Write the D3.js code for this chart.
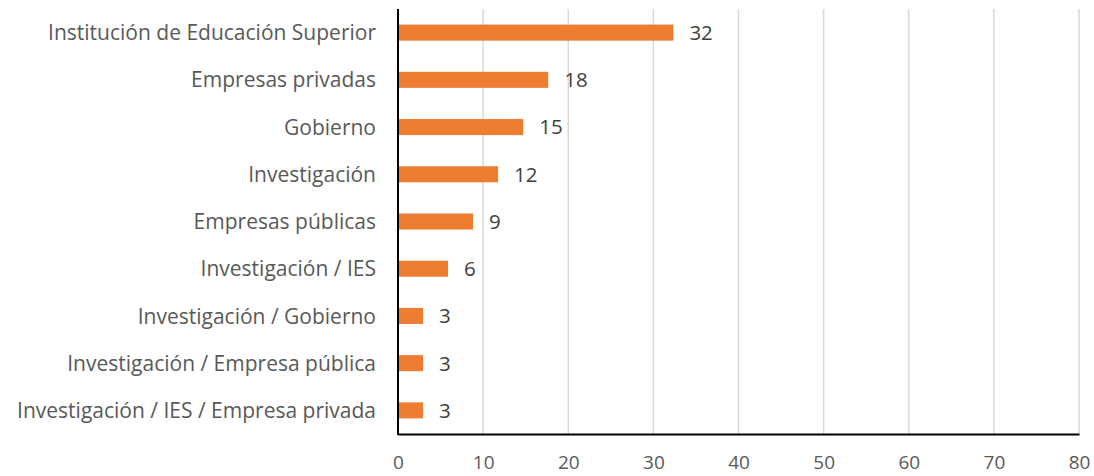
<!DOCTYPE html>
<html><head><meta charset="utf-8">
<script src="https://cdn.jsdelivr.net/npm/d3@7"></script>
<style>body{margin:0;background:#fff}svg{display:block}</style>
</head><body>
<script>
const categories = ["Institución de Educación Superior","Empresas privadas","Gobierno","Investigación","Empresas públicas","Investigación / IES","Investigación / Gobierno","Investigación / Empresa pública","Investigación / IES / Empresa privada"];
const values = [32.35, 17.65, 14.71, 11.76, 8.82, 5.88, 2.94, 2.94, 2.94];
const valueLabels = ["32","18","15","12","9","6","3","3","3"];
const xTicks = [0,10,20,30,40,50,60,70,80];

const W=1094,H=476;
const svg=d3.select("body").append("svg").attr("width",W).attr("height",H);
const x=d3.scaleLinear().domain([0,80]).range([398,1079]);
const y=d3.scaleBand().domain(categories).range([9,434]).paddingInner(0.66).paddingOuter(0.33);
const font="Open Sans, sans-serif";

svg.append("g").selectAll("line").data(xTicks.filter(d=>d>0)).join("line")
 .attr("x1",d=>x(d)).attr("x2",d=>x(d)).attr("y1",9).attr("y2",434)
 .attr("stroke","#d9d9d9").attr("stroke-width",1.5);

svg.append("g").selectAll("rect").data(values).join("rect")
 .attr("x",x(0)).attr("y",(d,i)=>y(categories[i]))
 .attr("width",d=>x(d)-x(0)).attr("height",y.bandwidth())
 .attr("fill","#ed7d31");

svg.append("g").selectAll("text").data(values).join("text")
 .attr("x",d=>x(d)+16).attr("y",(d,i)=>y(categories[i])+y.bandwidth()/2)
 .attr("dy","0.36em").attr("font-family",font).attr("font-size",20.5).attr("fill","#404040")
 .text((d,i)=>valueLabels[i]);

svg.append("g").selectAll("text").data(categories).join("text")
 .attr("x",376).attr("y",d=>y(d)+y.bandwidth()/2).attr("dy","0.36em")
 .attr("text-anchor","end").attr("font-family",font).attr("font-size",21).attr("fill","#595959")
 .text(d=>d);

const ax=svg.append("g").attr("transform","translate(0,434)")
 .call(d3.axisBottom(x).tickValues(xTicks).tickSize(0).tickPadding(22));
ax.select(".domain").attr("stroke","#000").attr("stroke-width",2);
ax.selectAll("text").attr("font-family",font).attr("font-size",19).attr("fill","#595959");

svg.append("line").attr("x1",x(0)).attr("x2",x(0)).attr("y1",9).attr("y2",435)
 .attr("stroke","#000").attr("stroke-width",2);
</script>
</body></html>
